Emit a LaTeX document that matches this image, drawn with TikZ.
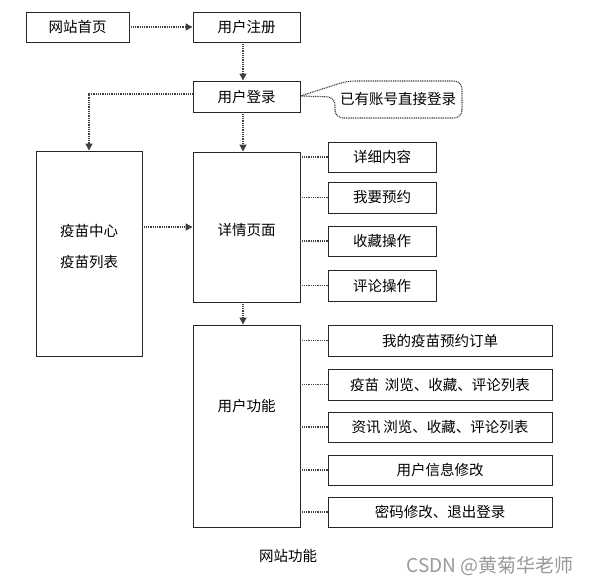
\documentclass[tikz,border=0pt]{standalone}
\usepackage{fontspec}
\setmainfont{Noto Sans CJK SC}
\usetikzlibrary{arrows.meta}
\tikzset{
  box/.style={draw=black!85, line width=0.9pt, inner sep=0pt, font=\fontsize{14.5}{17}\selectfont},
  lbl/.style={inner sep=0pt, font=\fontsize{14.5}{17}\selectfont},
  dots/.style={draw=black!75, line width=1.3pt, dash pattern=on 1pt off 0.8pt},
  arr/.style={dots, -{Triangle[width=7pt,length=7pt]}},
}
\begin{document}
\begin{tikzpicture}[x=1pt,y=-1pt]
\useasboundingbox[fill=white] (0,0) rectangle (593,587);
% top row
\node[box, minimum width=103, minimum height=30] (home) at (77.5,27) {网站首页};
\node[box, minimum width=107, minimum height=30] (reg) at (246.5,27) {用户注册};
\node[box, minimum width=107, minimum height=31] (login) at (246.5,96.5) {用户登录};
% callout
\node[lbl] (note) at (398,99) {已有账号直接登录};
% big boxes
\node[box, minimum width=106, minimum height=205] (vac) at (89,253.5) {};
\node[lbl, align=center, font=\fontsize{14.5}{31}\selectfont] (vaclbl) at (89,246.5) {疫苗中心\\疫苗列表};
\node[box, minimum width=107, minimum height=150] (detail) at (246.5,227) {};
\node[lbl] (detaillbl) at (246.5,230) {详情页面};
\node[box, minimum width=107, minimum height=202] (user) at (246.5,426) {};
\node[lbl] (userlbl) at (246.5,406) {用户功能};
% detail items
\node[box, minimum width=108, minimum height=30] (d1) at (382,157) {详细内容};
\node[box, minimum width=108, minimum height=31] (d2) at (382,197.5) {我要预约};
\node[box, minimum width=108, minimum height=30] (d3) at (382,241) {收藏操作};
\node[box, minimum width=108, minimum height=31] (d4) at (382,285.5) {评论操作};
% user items
\node[box, minimum width=224, minimum height=31] (u1) at (440,340.5) {我的疫苗预约订单};
\node[box, minimum width=224, minimum height=31] (u2) at (440,384.5) {疫苗\hspace{6pt}浏览、收藏、评论列表};
\node[box, minimum width=224, minimum height=30] (u3) at (440,427) {资讯\hspace{3pt}浏览、收藏、评论列表};
\node[box, minimum width=224, minimum height=30] (u4) at (440,470) {用户信息修改};
\node[box, minimum width=224, minimum height=30] (u5) at (440,512) {密码修改、退出登录};
% caption and watermark
\node[lbl] (cap) at (288,556) {网站功能};
\node[inner sep=0pt, text=black!40, font=\fontsize{19}{22}\selectfont] (wm) at (490,566) {CSDN @黄菊华老师};
% connectors
\draw[arr] (home.east) -- (reg.west);
\draw[arr] ([xshift=-3.5pt]reg.south) -- ([xshift=-3.5pt]login.north);
\draw[arr] ([yshift=2.5pt]login.west) -| (vac.north);
\draw[arr] ([xshift=-3.5pt]login.south) -- ([xshift=-3.5pt]detail.north);
\draw[arr] (vac.east |- detail.west) -- (detail.west);
\draw[arr] ([xshift=-3.5pt]detail.south) -- ([xshift=-3.5pt]user.north);
\foreach \n in {d1,d2,d3,d4}{\draw[dots] (\n.west -| detail.east) -- (\n.west);}
\foreach \n in {u1,u2,u3,u4,u5}{\draw[dots] (\n.west -| user.east) -- (\n.west);}
% callout outline
\draw[dots, line width=1.1pt, rounded corners=8pt] ([yshift=0.5pt]login.east) -- (335,97) -- (335,118) -- (462,118) -- (462,81) -- (347,81) -- ([yshift=0.5pt]login.east);
\end{tikzpicture}
\end{document}
